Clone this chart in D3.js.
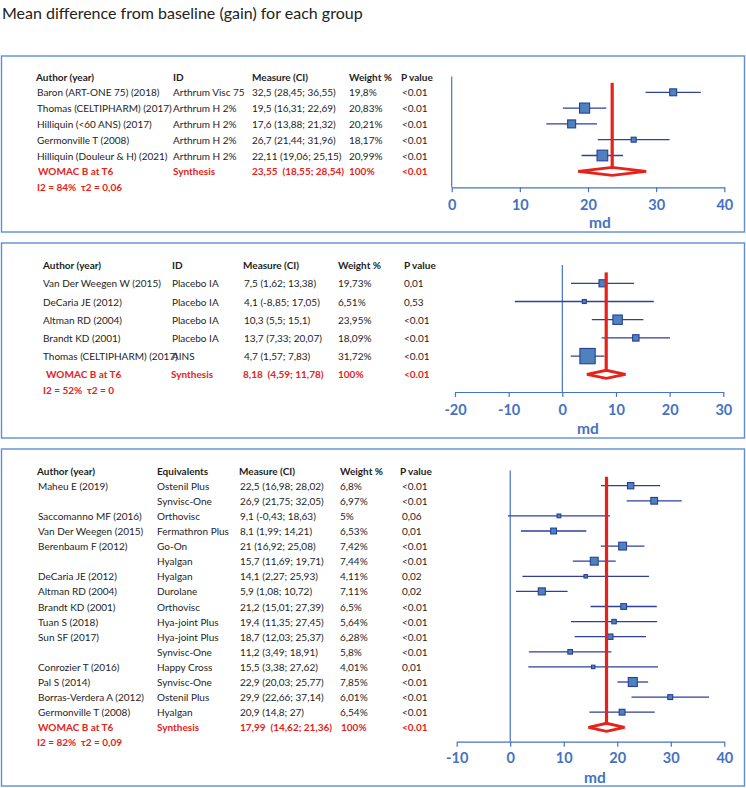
<!DOCTYPE html>
<html><head><meta charset="utf-8">
<script src="https://cdn.jsdelivr.net/npm/d3@7"></script>
<style>
body{margin:0;background:#fff}
svg text{font-family:Lato,"Open Sans",sans-serif}
</style>
</head><body>
<svg id="chart" width="746" height="788"></svg>
<script>
// ---------------- DATA ----------------
const chartTitle = "Mean difference from baseline (gain) for each group";

// Panel 1
const p1Headers = ["Author (year)", "ID", "Measure (CI)", "Weight %", "P value"];
const p1Authors = ["Baron (ART-ONE 75) (2018)", "Thomas (CELTIPHARM) (2017)", "Hilliquin (<60 ANS) (2017)", "Germonville T (2008)", "Hilliquin (Douleur & H) (2021)"];
const p1Ids = ["Arthrum Visc 75", "Arthrum H 2%", "Arthrum H 2%", "Arthrum H 2%", "Arthrum H 2%"];
const p1Means = [32.5, 19.5, 17.6, 26.7, 22.11];
const p1Lows = [28.45, 16.31, 13.88, 21.44, 19.06];
const p1Highs = [36.55, 22.69, 21.32, 31.96, 25.15];
const p1Weights = [19.8, 20.83, 20.21, 18.17, 20.99];
const p1PValues = ["<0.01", "<0.01", "<0.01", "<0.01", "<0.01"];
const p1Synthesis = [23.55, 18.55, 28.54];
const p1SynthesisP = "<0.01";
const p1Heterogeneity = "I2 = 84%  τ2 = 0,06";
const p1Ticks = [0, 10, 20, 30, 40];

// Panel 2
const p2Headers = ["Author (year)", "ID", "Measure (CI)", "Weight %", "P value"];
const p2Authors = ["Van Der Weegen W (2015)", "DeCaria JE (2012)", "Altman RD (2004)", "Brandt KD (2001)", "Thomas (CELTIPHARM) (2017)"];
const p2Ids = ["Placebo IA", "Placebo IA", "Placebo IA", "Placebo IA", "AINS"];
const p2Means = [7.5, 4.1, 10.3, 13.7, 4.7];
const p2Lows = [1.62, -8.85, 5.5, 7.33, 1.57];
const p2Highs = [13.38, 17.05, 15.1, 20.07, 7.83];
const p2Weights = [19.73, 6.51, 23.95, 18.09, 31.72];
const p2PValues = ["0,01", "0,53", "<0.01", "<0.01", "<0.01"];
const p2Synthesis = [8.18, 4.59, 11.78];
const p2SynthesisP = "<0.01";
const p2Heterogeneity = "I2 = 52%  τ2 = 0";
const p2Ticks = [-20, -10, 0, 10, 20, 30];

// Panel 3
const p3Headers = ["Author (year)", "Equivalents", "Measure (CI)", "Weight %", "P value"];
const p3Authors = ["Maheu E (2019)", "", "Saccomanno MF (2016)", "Van Der Weegen (2015)", "Berenbaum F (2012)", "", "DeCaria JE (2012)", "Altman RD (2004)", "Brandt KD (2001)", "Tuan S (2018)", "Sun SF (2017)", "", "Conrozier T (2016)", "Pal S (2014)", "Borras-Verdera A (2012)", "Germonville T (2008)"];
const p3Ids = ["Ostenil Plus", "Synvisc-One", "Orthovisc", "Fermathron Plus", "Go-On", "Hyalgan", "Hyalgan", "Durolane", "Orthovisc", "Hya-joint Plus", "Hya-joint Plus", "Synvisc-One", "Happy Cross", "Synvisc-One", "Ostenil Plus", "Hyalgan"];
const p3Means = [22.5, 26.9, 9.1, 8.1, 21, 15.7, 14.1, 5.9, 21.2, 19.4, 18.7, 11.2, 15.5, 22.9, 29.9, 20.9];
const p3Lows = [16.98, 21.75, -0.43, 1.99, 16.92, 11.69, 2.27, 1.08, 15.01, 11.35, 12.03, 3.49, 3.38, 20.03, 22.66, 14.8];
const p3Highs = [28.02, 32.05, 18.63, 14.21, 25.08, 19.71, 25.93, 10.72, 27.39, 27.45, 25.37, 18.91, 27.62, 25.77, 37.14, 27];
const p3Weights = [6.8, 6.97, 5, 6.53, 7.42, 7.44, 4.11, 7.11, 6.5, 5.64, 6.28, 5.8, 4.01, 7.85, 6.01, 6.54];
const p3PValues = ["<0.01", "<0.01", "0,06", "0,01", "<0.01", "<0.01", "0,02", "0,02", "<0.01", "<0.01", "<0.01", "<0.01", "0,01", "<0.01", "<0.01", "<0.01"];
const p3Synthesis = [17.99, 14.62, 21.36];
const p3SynthesisP = "<0.01";
const p3Heterogeneity = "I2 = 82%  τ2 = 0,09";
const p3Ticks = [-10, 0, 10, 20, 30, 40];

const synthesisLabel = "WOMAC B at T6";
const synthesisId = "Synthesis";
const synthesisWeight = "100%";
const axisLabel = "md";

// ---------------- STYLE / LAYOUT ----------------
const RED = "#E5231B", BLUE = "#4472C4", BORDER = "#5F8FD3", TXT = "#1e1e1e";
const SQ_FILL = "#4F81BD", SQ_STROKE = "#24409A", CI_COL = "#2E3F9C";
const FS = 10;

const svg = d3.select("#chart");
svg.append("text").attr("x", 2).attr("y", 12).attr("dominant-baseline", "central")
  .attr("font-size", 16).attr("fill", "#222").text(chartTitle);

const fmt = v => String(v).replace(".", ",");

function drawPanel(d, L) {
  const g = svg.append("g");
  g.append("rect").attr("x", 1.5).attr("y", L.box[0]).attr("width", 743).attr("height", L.box[1] - L.box[0])
    .attr("fill", "none").attr("stroke", BORDER).attr("stroke-width", 1.4);

  const n = d.means.length;
  const yRow = d3.scaleLinear().domain([0, 1]).range([L.rowY0, L.rowY0 + L.rowStep]);
  const x = d3.scaleLinear().domain([d.ticks[0], d.ticks[d.ticks.length - 1]]).range(L.xRange);
  const ext = d3.extent(d.weights);
  const tScale = d3.scaleLinear().domain(ext).range([0, 1]);
  const size = w => L.sizeRange[0] + (L.sizeRange[1] - L.sizeRange[0]) * Math.pow(tScale(w), 2);

  // header
  d.headers.forEach((h, j) => {
    g.append("text").attr("x", L.cols[j]).attr("y", yRow(-1)).attr("dominant-baseline", "central")
      .attr("font-size", FS).attr("font-weight", 700).attr("fill", TXT).text(h);
  });
  // rows
  const rows = d3.range(n).map(i => [d.authors[i], d.ids[i],
    `${fmt(d.means[i])} (${fmt(d.lows[i])}; ${fmt(d.highs[i])})`, fmt(d.weights[i]) + "%", d.pvals[i]]);
  rows.forEach((r, i) => r.forEach((t, j) => {
    g.append("text").attr("x", L.cols[j] + (L.rowOff ? L.rowOff[j] : 0)).attr("y", yRow(i))
      .attr("dominant-baseline", "central").attr("font-size", FS).attr("fill", TXT).text(t);
  }));
  // synthesis row
  const s = d.synth;
  const srow = [synthesisLabel, synthesisId, `${fmt(s[0])}\u00a0 (${fmt(s[1])}; ${fmt(s[2])})`, synthesisWeight, d.synthP];
  srow.forEach((t, j) => {
    g.append("text").attr("x", L.cols[j] + (L.synOff ? L.synOff[j] : 0)).attr("y", yRow(n))
      .attr("dominant-baseline", "central").attr("font-size", FS).attr("font-weight", 700)
      .attr("fill", RED).text(t);
  });
  g.append("text").attr("x", L.hetX).attr("y", yRow(n + 1) + (L.hetDy || 0)).attr("dominant-baseline", "central")
    .attr("font-size", FS).attr("font-weight", 700).attr("fill", RED).style("white-space", "pre").text(d.het);

  // y axis line at zero
  g.append("line").attr("x1", x(0)).attr("x2", x(0)).attr("y1", yRow(-1)).attr("y2", L.axisY)
    .attr("stroke", BLUE).attr("stroke-width", 1.2);

  // x axis
  const ax = g.append("g").attr("transform", `translate(0,${L.axisY})`)
    .call(d3.axisBottom(x).tickValues(d.ticks).tickSizeInner(5).tickSizeOuter(0).tickFormat(v => v));
  ax.select(".domain").attr("stroke", BLUE).attr("stroke-width", 1.2);
  ax.selectAll(".tick line").attr("stroke", BLUE).attr("stroke-width", 1.2);
  ax.selectAll(".tick text").attr("y", L.tickLabelDy).attr("dy", "0.35em").attr("fill", BLUE)
    .attr("font-size", 14.5).attr("font-weight", 700).attr("font-family", "Lato, sans-serif");
  g.append("text").attr("x", L.mdX).attr("y", L.mdY).attr("text-anchor", "middle").attr("dominant-baseline", "central")
    .attr("fill", BLUE).attr("font-size", 15.5).attr("font-weight", 700).text(axisLabel);

  // CI lines + squares
  d3.range(n).forEach(i => {
    g.append("line").attr("x1", x(d.lows[i])).attr("x2", x(d.highs[i])).attr("y1", yRow(i)).attr("y2", yRow(i))
      .attr("stroke", CI_COL).attr("stroke-width", 1.3);
  });
  d3.range(n).forEach(i => {
    const sz = size(d.weights[i]);
    g.append("rect").attr("x", x(d.means[i]) - sz / 2).attr("y", yRow(i) - sz / 2).attr("width", sz).attr("height", sz)
      .attr("fill", SQ_FILL).attr("stroke", SQ_STROKE).attr("stroke-width", 1.1);
  });

  // synthesis line + diamond
  const yd = yRow(n);
  g.append("line").attr("x1", x(s[0])).attr("x2", x(s[0])).attr("y1", yRow(-0.6)).attr("y2", yd)
    .attr("stroke", RED).attr("stroke-width", 3.2);
  g.append("path").attr("d", `M${x(s[1])},${yd} L${x(s[0])},${yd - 4} L${x(s[2])},${yd} L${x(s[0])},${yd + 4} Z`)
    .attr("fill", "#fff").attr("stroke", RED).attr("stroke-width", 2.8).attr("stroke-linejoin", "miter");
}

drawPanel({headers: p1Headers, authors: p1Authors, ids: p1Ids, means: p1Means, lows: p1Lows, highs: p1Highs,
  weights: p1Weights, pvals: p1PValues, synth: p1Synthesis, synthP: p1SynthesisP, het: p1Heterogeneity, ticks: p1Ticks},
  {box: [56, 232], cols: [36, 173, 252, 349, 401], rowOff: [1, 0, 0, 0, 1], synOff: [2, 0, 0, 0, 1], hetX: 37,
   rowY0: 92.3, rowStep: 15.8, xRange: [451.7, 724.3], axisY: 187.3, tickLabelDy: 18, mdX: 600, mdY: 222,
   sizeRange: [5, 10.7]});

drawPanel({headers: p2Headers, authors: p2Authors, ids: p2Ids, means: p2Means, lows: p2Lows, highs: p2Highs,
  weights: p2Weights, pvals: p2PValues, synth: p2Synthesis, synthP: p2SynthesisP, het: p2Heterogeneity, ticks: p2Ticks},
  {box: [243, 438], cols: [43, 172, 243, 338, 404], rowOff: [0, 0, 1, 0, 0], synOff: [3, -1, 0, 0, 0], hetX: 43, hetDy: -3,
   rowY0: 283.3, rowStep: 18.2, xRange: [455, 723.3], axisY: 392, tickLabelDy: 18, mdX: 588, mdY: 428,
   sizeRange: [4, 15.3]});

drawPanel({headers: p3Headers, authors: p3Authors, ids: p3Ids, means: p3Means, lows: p3Lows, highs: p3Highs,
  weights: p3Weights, pvals: p3PValues, synth: p3Synthesis, synthP: p3SynthesisP, het: p3Heterogeneity, ticks: p3Ticks},
  {box: [449, 786], cols: [37, 157, 239, 340, 400], rowOff: [1, 0, 1, 0, 2], synOff: [1, 0, 1, 1, 2], hetX: 37,
   rowY0: 485.7, rowStep: 15.1, xRange: [456.7, 724.3], axisY: 741.7, tickLabelDy: 16.5, mdX: 595, mdY: 776.7,
   sizeRange: [3.4, 9]});
</script>
</body></html>
